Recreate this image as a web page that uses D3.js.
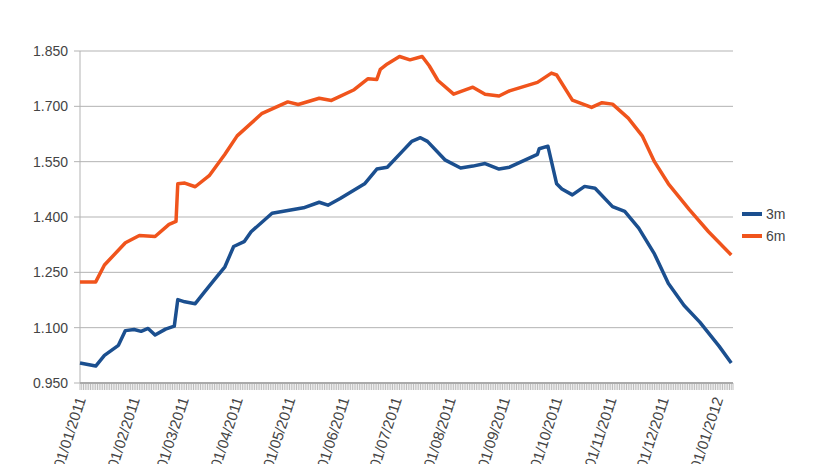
<!DOCTYPE html>
<html><head><meta charset="utf-8">
<script src="https://cdn.jsdelivr.net/npm/d3@7"></script>
<style>body{margin:0;background:#fff;font-family:"Liberation Sans",Arial,sans-serif;}</style>
</head><body><svg id="chart" width="825" height="464"></svg>
<script>
// days since 01/01/2011
const day3 = [0,9,14,22,26,31,35,39,43,49,54,56,60,66,71,77,83,88,94,98,110,128,137,142,149,163,170,176,185,189,190,195,199,209,218,225,232,240,246,262,263,268,273,276,282,289,295,305,312,320,329,337,346,355,366,373];
const val3 = [1.004,0.996,1.025,1.052,1.092,1.095,1.090,1.098,1.080,1.096,1.104,1.176,1.170,1.165,1.195,1.230,1.265,1.320,1.333,1.360,1.410,1.425,1.440,1.432,1.450,1.490,1.530,1.535,1.580,1.600,1.605,1.615,1.605,1.555,1.533,1.538,1.545,1.530,1.535,1.570,1.585,1.592,1.490,1.476,1.460,1.483,1.478,1.428,1.415,1.370,1.300,1.220,1.160,1.115,1.050,1.004];
const day6 = [0,9,14,26,34,43,51,55,56,60,66,74,83,90,104,119,125,137,144,157,165,170,172,176,183,189,196,200,205,214,225,232,240,246,262,270,273,282,293,299,305,314,322,329,337,349,360,373];
const val6 = [1.224,1.224,1.270,1.330,1.350,1.347,1.380,1.388,1.490,1.492,1.482,1.512,1.570,1.620,1.680,1.712,1.705,1.722,1.716,1.745,1.775,1.773,1.800,1.815,1.835,1.826,1.835,1.810,1.770,1.733,1.752,1.733,1.728,1.742,1.765,1.790,1.785,1.717,1.697,1.710,1.706,1.668,1.620,1.550,1.490,1.420,1.360,1.297];
const yTicks = [0.95,1.1,1.25,1.4,1.55,1.7,1.85];
const seriesNames = ['3m','6m'];
const seriesColors = ['#1b4f8f','#f0541c'];

const start = new Date(2011,0,1);
const toDate = d => d3.timeDay.offset(start, d);
const svg = d3.select('#chart');
const m = {l:80, r:733, t:51, b:383};

const x = d3.scaleTime().domain([start, toDate(374)]).range([m.l, m.r]);
const y = d3.scaleLinear().domain([0.95,1.85]).range([m.b, m.t]);

// grid
svg.append('g').selectAll('line').data(yTicks.slice(1)).join('line')
  .attr('x1', m.l).attr('x2', m.r).attr('y1', d => y(d)).attr('y2', d => y(d))
  .attr('stroke', '#b3b3b3').attr('stroke-width', 1);
svg.append('line').attr('x1', m.l).attr('x2', m.l).attr('y1', m.t).attr('y2', m.b).attr('stroke', '#b3b3b3');

// y labels
svg.append('g').selectAll('text').data(yTicks).join('text')
  .attr('x', 68).attr('y', d => y(d) + 5).attr('text-anchor', 'end')
  .attr('font-size', 14).attr('fill', '#444').text(d3.format('.3f'));
svg.append('g').selectAll('line').data(yTicks).join('line')
  .attr('x1', 74).attr('x2', m.l).attr('y1', d => y(d)).attr('y2', d => y(d)).attr('stroke', '#b3b3b3');

// x axis with daily ticks (dense gray band)
svg.append('g').selectAll('line').data(d3.timeDay.range(start, toDate(375))).join('line')
  .attr('x1', d => x(d)).attr('x2', d => x(d)).attr('y1', m.b).attr('y2', m.b + 7)
  .attr('stroke', '#bdbdbd').attr('stroke-width', 1);
svg.append('line').attr('x1', m.l).attr('x2', m.r).attr('y1', m.b).attr('y2', m.b).attr('stroke', '#aaa').attr('stroke-width', 2);

const fmt = d3.timeFormat('%d/%m/%Y');
svg.append('g').selectAll('text').data(d3.timeMonth.range(start, toDate(374))).join('text')
  .attr('transform', d => `translate(${x(d) + 6},${m.b + 16}) rotate(-72)`)
  .attr('text-anchor', 'end').attr('font-size', 15).attr('fill', '#444').text(fmt);

// lines
const line = d3.line().x(d => x(toDate(d[0]))).y(d => y(d[1])).curve(d3.curveLinear);
const series = [d3.zip(day3, val3), d3.zip(day6, val6)];
svg.append('g').selectAll('path').data(series).join('path')
  .attr('d', line).attr('fill', 'none')
  .attr('stroke', (d, i) => seriesColors[i]).attr('stroke-width', 3.5)
  .attr('stroke-linejoin', 'round');

// legend
const lg = svg.append('g').selectAll('g').data(seriesNames).join('g')
  .attr('transform', (d, i) => `translate(742,${214 + i * 22})`);
lg.append('line').attr('x1', 0).attr('x2', 20).attr('stroke', (d, i) => seriesColors[i]).attr('stroke-width', 4);
lg.append('text').attr('x', 24).attr('y', 5).attr('font-size', 14).attr('fill', '#444').text(d => d);
</script></body></html>
